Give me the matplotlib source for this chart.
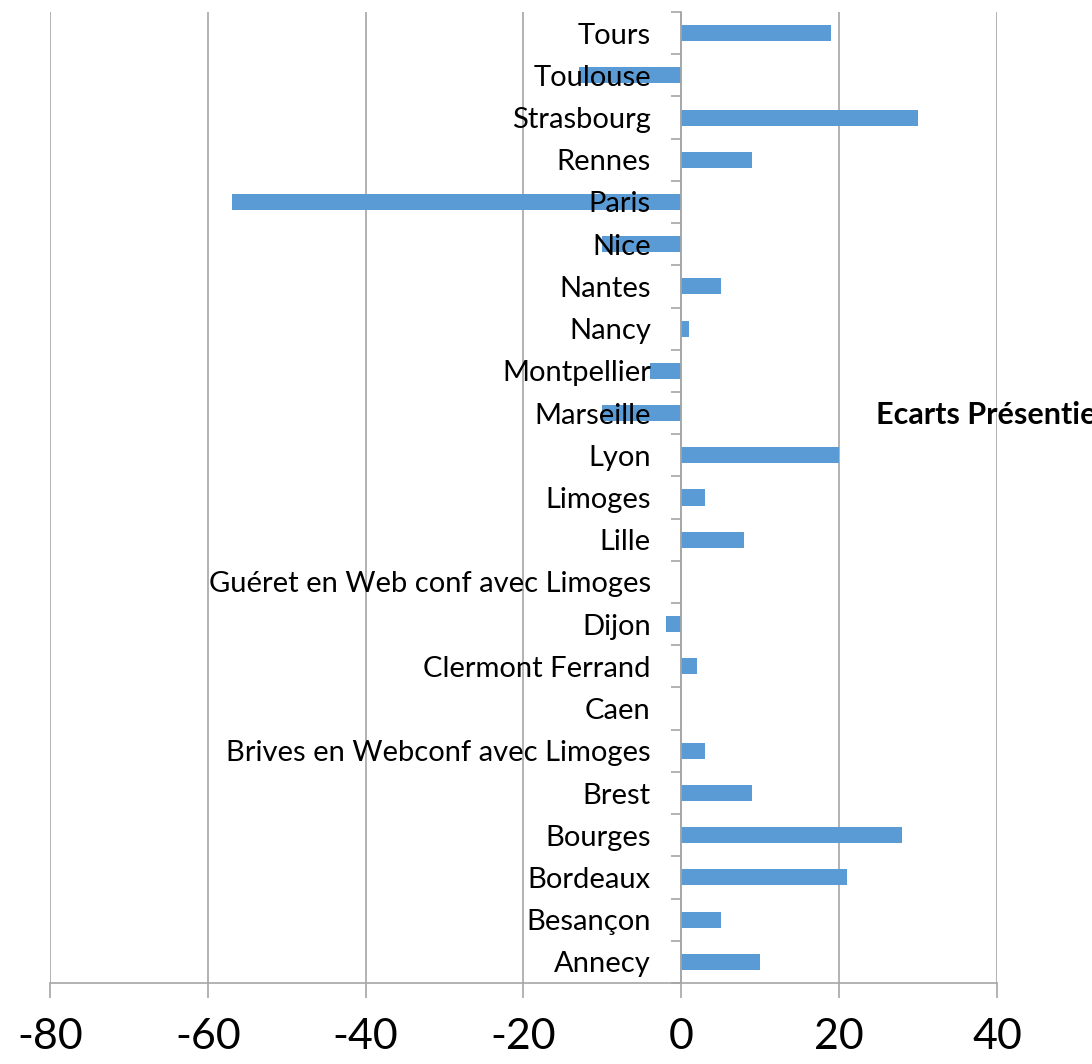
import matplotlib
matplotlib.use("Agg")
import matplotlib.pyplot as plt
from matplotlib.ticker import FixedLocator

plt.rcParams["font.family"] = ["Lato", "DejaVu Sans"]

_BAR = "#5b9bd5"
_GRID = "#a6a6a6"

cities = [
    "Annecy", "Besançon", "Bordeaux", "Bourges", "Brest",
    "Brives en Webconf avec Limoges", "Caen", "Clermont Ferrand", "Dijon",
    "Guéret en Web conf avec Limoges", "Lille", "Limoges", "Lyon",
    "Marseille", "Montpellier", "Nancy", "Nantes", "Nice", "Paris",
    "Rennes", "Strasbourg", "Toulouse", "Tours",
]
ecarts = [10, 5, 21, 28, 9, 3, 0, 2, -2, 0, 8, 3, 20,
          -10, -4, 1, 5, -10, -57, 9, 30, -13, 19]
x_ticks = [-80, -60, -40, -20, 0, 20, 40]

fig = plt.figure(figsize=(10.92, 10.64), dpi=100)
ax = fig.add_axes([50 / 1092, 1 - 983 / 1064, 947 / 1092, 971 / 1064])

y = list(range(len(cities)))
ax.barh(y, ecarts, height=0.38, color=_BAR, zorder=1)

ax.set_xlim(-80, 40)
ax.set_ylim(-0.5, len(cities) - 0.5)
ax.set_xticks(x_ticks)
ax.set_xticklabels([str(v) for v in x_ticks], fontsize=31)
ax.grid(axis="x", color=_GRID, linewidth=1.2)

# grid under the bars, city names over them
ax.xaxis.set_zorder(0.5)
ax.yaxis.set_zorder(3)

for side in ("top", "right"):
    ax.spines[side].set_visible(False)
ax.spines["left"].set_position(("data", 0))
ax.spines["left"].set_color(_GRID)
ax.spines["left"].set_linewidth(1.2)
ax.spines["left"].set_zorder(3)
ax.spines["bottom"].set_color(_GRID)
ax.spines["bottom"].set_linewidth(1.2)

ax.set_yticks(y)
ax.set_yticklabels(cities, fontsize=21)
ax.tick_params(axis="y", which="major", length=0, pad=22)
ax.yaxis.set_minor_locator(FixedLocator([i - 0.5 for i in range(len(cities) + 1)]))
ax.tick_params(axis="y", which="minor", length=7, color=_GRID, width=1.2, direction="out")
ax.tick_params(axis="x", length=11, color=_GRID, width=1.2, pad=14)

fig.text(876 / 1092, 1 - 415 / 1064, "Ecarts Présentiel", fontsize=22,
         fontweight="bold", va="center", ha="left")

fig.savefig("out.png", dpi=100)
plt.close(fig)
